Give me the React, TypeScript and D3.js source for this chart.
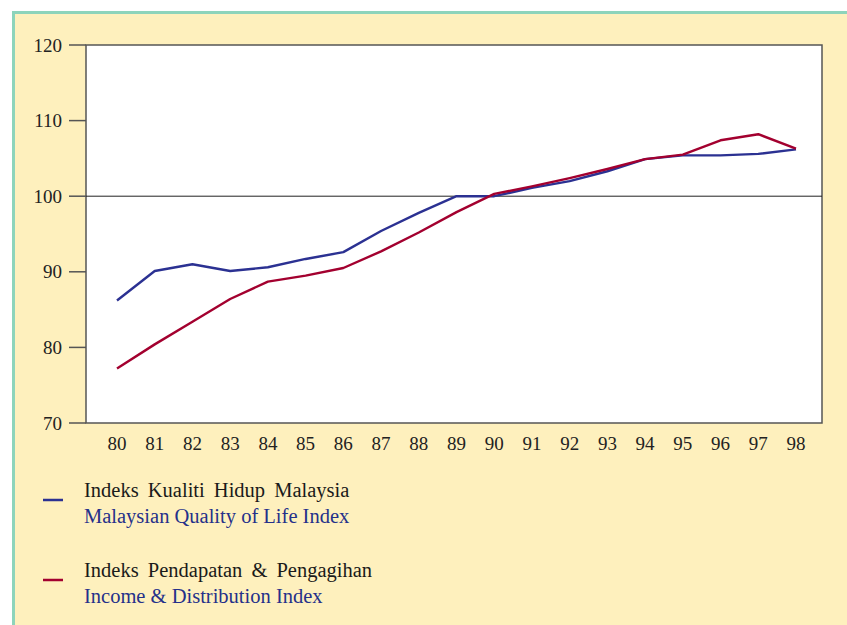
import React from "react";
import * as d3 from "d3";

const years = ["80","81","82","83","84","85","86","87","88","89","90","91","92","93","94","95","96","97","98"];
const qualityIndex = [86.2, 90.1, 91.0, 90.1, 90.6, 91.7, 92.6, 95.4, 97.8, 100.0, 100.0, 101.1, 102.0, 103.3, 104.9, 105.4, 105.4, 105.6, 106.2];
const incomeIndex = [77.2, 80.4, 83.4, 86.4, 88.7, 89.5, 90.5, 92.7, 95.2, 97.9, 100.3, 101.3, 102.4, 103.6, 104.9, 105.5, 107.4, 108.2, 106.3];
const yTicks = [70, 80, 90, 100, 110, 120];
const legendItems = [
  { malay: "Indeks Kualiti Hidup Malaysia", english: "Malaysian Quality of Life Index", color: "#2b3192" },
  { malay: "Indeks Pendapatan & Pengagihan", english: "Income & Distribution Index", color: "#a3002f" },
];

export default function App() {
  const W = 847, H = 625;
  const plot = { left: 86, right: 822, top: 45, bottom: 423 };
  const x = d3.scalePoint<string>().domain(years).range([117, 796]);
  const y = d3.scaleLinear().domain([70, 120]).range([plot.bottom, plot.top]);
  const line = d3.line<number>().x((_, i) => x(years[i])!).y((d) => y(d));
  const font = "'Liberation Serif', 'Times New Roman', serif";
  const series = [qualityIndex, incomeIndex];
  return (
    <svg width={W} height={H} style={{ position: "absolute", left: 0, top: 0, fontFamily: font }}>
      <rect x={0} y={0} width={W} height={H} fill="#ffffff" />
      <rect x={13.5} y={12.5} width={W + 20} height={H + 20} fill="#fef0bd" stroke="#8dd4bb" strokeWidth={3} />
      <rect x={plot.left} y={plot.top} width={plot.right - plot.left} height={plot.bottom - plot.top} fill="#ffffff" stroke="#555555" strokeWidth={1.5} />
      <line x1={plot.left} x2={plot.right} y1={y(100)} y2={y(100)} stroke="#222" strokeWidth={1} />
      {yTicks.map((t) => (
        <g key={t}>
          <line x1={69} x2={plot.left} y1={y(t)} y2={y(t)} stroke="#555555" strokeWidth={1.5} />
          <text x={62} y={y(t)} dy="0.35em" textAnchor="end" fontSize={19} fill="#222">{t}</text>
        </g>
      ))}
      {years.map((yr) => (
        <text key={yr} x={x(yr)} y={450} textAnchor="middle" fontSize={19} fill="#222">{yr}</text>
      ))}
      {series.map((s, i) => (
        <path key={i} d={line(s)!} fill="none" stroke={legendItems[i].color} strokeWidth={2.4} strokeLinejoin="round" />
      ))}
      {legendItems.map((it, i) => {
        const by = 497 + i * 80;
        return (
          <g key={i}>
            <line x1={43} x2={63} y1={by + 3} y2={by + 3} stroke={it.color} strokeWidth={2.5} />
            <text x={84} y={by} fontSize={20.5} fill="#1a1a1a" wordSpacing={4}>{it.malay}</text>
            <text x={84} y={by + 26} fontSize={20.5} fill="#25308a">{it.english}</text>
          </g>
        );
      })}
    </svg>
  );
}
